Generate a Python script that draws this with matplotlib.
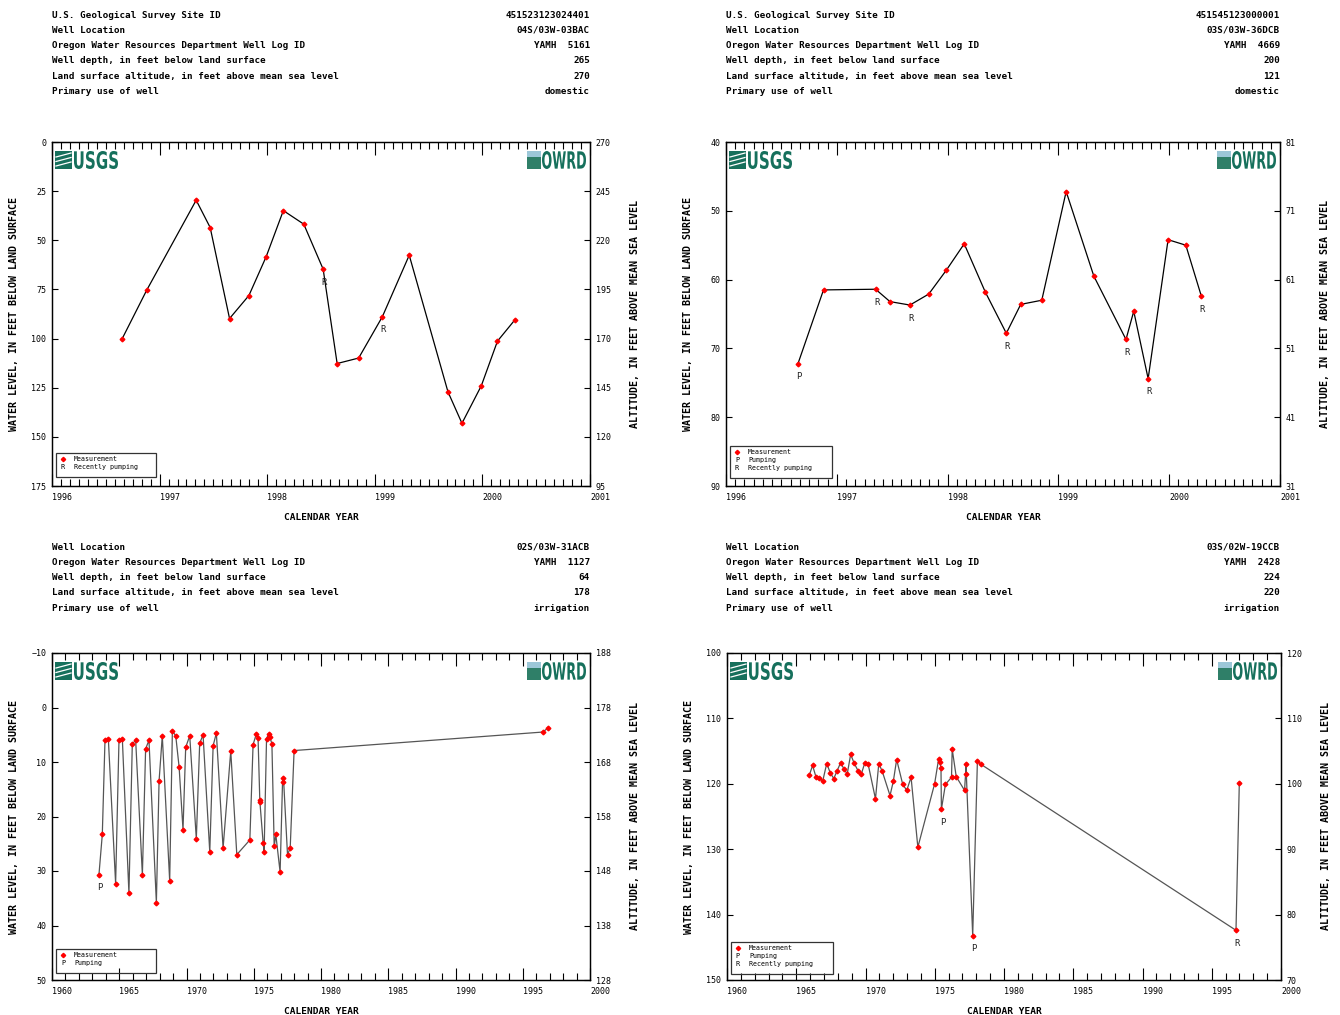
import matplotlib
matplotlib.use('Agg')
import matplotlib.pyplot as plt
from matplotlib.patches import Rectangle, PathPatch
from matplotlib.lines import Line2D
from matplotlib.ticker import MultipleLocator
from matplotlib.textpath import TextPath
from matplotlib.font_manager import FontProperties
from matplotlib.transforms import Affine2D, IdentityTransform

W, H = 1340, 1015
MONO = ['DejaVu Sans Mono']
TEAL = '#16705c'

# --- header info for the four wells ---
tl_labels = ["U.S. Geological Survey Site ID", "Well Location",
             "Oregon Water Resources Department Well Log ID",
             "Well depth, in feet below land surface",
             "Land surface altitude, in feet above mean sea level",
             "Primary use of well"]
tl_values = ["451523123024401", "04S/03W-03BAC", "YAMH  5161", "265", "270", "domestic"]
tr_values = ["451545123000001", "03S/03W-36DCB", "YAMH  4669", "200", "121", "domestic"]
bl_labels = tl_labels[1:]
bl_values = ["02S/03W-31ACB", "YAMH  1127", "64", "178", "irrigation"]
br_values = ["03S/02W-19CCB", "YAMH  2428", "224", "220", "irrigation"]

# --- well 1 (top left) ---
tl_years = [1996.65, 1996.88, 1997.34, 1997.47, 1997.65, 1997.83, 1997.99, 1998.15,
            1998.34, 1998.52, 1998.65, 1998.85, 1999.07, 1999.32, 1999.68, 1999.81,
            1999.99, 2000.14, 2000.30]
tl_depth = [100.3, 75.4, 29.6, 43.5, 89.8, 78.1, 58.4, 34.9, 41.8, 64.7, 112.7, 109.9,
            88.9, 57.6, 127.1, 143.1, 124.0, 101.3, 90.6]
tl_notes = {9: 'R', 12: 'R'}

# --- well 2 (top right) ---
tr_years = [1996.65, 1996.88, 1997.35, 1997.48, 1997.66, 1997.83, 1997.99, 1998.15,
            1998.34, 1998.53, 1998.66, 1998.85, 1999.07, 1999.32, 1999.61, 1999.68,
            1999.81, 1999.99, 2000.15, 2000.29]
tr_depth = [72.2, 61.5, 61.4, 63.2, 63.7, 62.1, 58.6, 54.8, 61.8, 67.8, 63.6, 63.0,
            47.2, 59.5, 68.7, 64.6, 74.4, 54.2, 55.0, 62.4]
tr_notes = {0: 'P', 2: 'R', 4: 'R', 9: 'R', 14: 'R', 16: 'R', 19: 'R'}

# --- well 3 (bottom left) ---
bl_years = [1963.49, 1963.74, 1963.94, 1964.19, 1964.73, 1964.98, 1965.23, 1965.72,
            1965.97, 1966.22, 1966.72, 1966.96, 1967.21, 1967.76, 1967.96, 1968.20,
            1968.75, 1968.95, 1969.20, 1969.45, 1969.74, 1969.94, 1970.24, 1970.73,
            1970.98, 1971.23, 1971.73, 1971.98, 1972.22, 1972.72, 1973.29, 1973.74,
            1974.71, 1974.95, 1975.20, 1975.32, 1975.45, 1975.46, 1975.70, 1975.77,
            1975.95, 1976.10, 1976.20, 1976.35, 1976.52, 1976.64, 1976.96, 1977.14,
            1977.21, 1977.51, 1977.71, 1978.00, 1996.51, 1996.89]
bl_depth = [30.7, 23.3, 6.0, 5.8, 32.3, 6.0, 5.8, 34.1, 6.7, 6.0, 30.7, 7.6, 6.0, 35.8,
            13.5, 5.2, 31.8, 4.3, 5.2, 10.9, 22.4, 7.3, 5.2, 24.1, 6.6, 5.0, 26.5, 7.0,
            4.7, 25.8, 8.0, 27.0, 24.3, 6.8, 4.8, 5.6, 17.0, 17.4, 24.9, 26.5, 5.8, 4.8,
            5.4, 6.7, 25.5, 23.3, 30.2, 13.7, 12.9, 27.0, 25.8, 7.9, 4.5, 3.7]
bl_notes = {0: 'P'}

# --- well 4 (bottom right) ---
br_years = [1965.94, 1966.18, 1966.43, 1966.67, 1966.91, 1967.20, 1967.45, 1967.71,
            1967.93, 1968.20, 1968.44, 1968.68, 1968.93, 1969.17, 1969.46, 1969.70,
            1969.95, 1970.19, 1970.72, 1970.96, 1971.21, 1971.77, 1972.01, 1972.25,
            1972.69, 1972.98, 1973.29, 1973.78, 1974.99, 1975.28, 1975.36, 1975.45,
            1975.48, 1975.77, 1976.21, 1976.26, 1976.55, 1977.15, 1977.27, 1977.28,
            1977.74, 1978.08, 1978.32, 1996.75, 1996.99]
br_depth = [118.7, 117.2, 119.0, 119.1, 119.6, 116.9, 118.3, 119.2, 118.1, 116.8, 117.7,
            118.5, 115.5, 116.8, 118.0, 118.5, 116.8, 117.0, 122.3, 116.9, 118.1, 121.8,
            119.6, 116.3, 120.1, 121.0, 119.0, 129.7, 120.0, 116.2, 116.7, 117.6, 123.9,
            120.1, 119.0, 114.7, 118.9, 121.0, 117.0, 118.5, 143.2, 116.5, 117.0, 142.4,
            119.9]
br_notes = {32: 'P', 40: 'P', 43: 'R'}


def fx(x):
    return x / W


def fy(y):
    return 1 - y / H


fig = plt.figure(figsize=(W / 100, H / 100), dpi=100)
BOLD = FontProperties(family='DejaVu Sans', weight='bold')


def header(labels, values, x0, x1, y0):
    for i, (l, v) in enumerate(zip(labels, values)):
        y = y0 + i * 15.3
        fig.text(fx(x0), fy(y), l, family=MONO, fontsize=6.7, weight='bold', va='center')
        fig.text(fx(x1), fy(y), v, family=MONO, fontsize=6.7, weight='bold', va='center', ha='right')


def legend(x0, y0, w, items):
    h = 8 + 8 * len(items)
    fig.add_artist(Rectangle((fx(x0), fy(y0 + h)), w / W, h / H, transform=fig.transFigure,
                             fill=False, lw=0.9, ec='#333333'))
    for i, (sym, txt) in enumerate(items):
        y = y0 + 6 + i * 8
        if sym == '*':
            fig.add_artist(Line2D([fx(x0 + 7)], [fy(y)], marker='D', ms=2.2, color='red',
                                  lw=0, transform=fig.transFigure))
        else:
            fig.text(fx(x0 + 7), fy(y), sym, family=MONO, fontsize=5, ha='center', va='center')
        fig.text(fx(x0 + 18), fy(y), txt, family=MONO, fontsize=4.8, va='center')


def squeezed_text(s, left, right, top, bottom, color):
    # squeeze the word into a pixel box to get the narrow bold logo look
    tp = TextPath((0, 0), s, size=20, prop=BOLD)
    ext = tp.get_extents()
    sx = (right - left) / ext.width
    sy = (bottom - top) / ext.height
    tr = Affine2D().translate(-ext.x0, -ext.y0).scale(sx, sy).translate(left, H - bottom)
    fig.add_artist(PathPatch(tp, transform=tr + IdentityTransform(), color=color, lw=0))


def panel(box, years, depth, notes, land, ylo, yhi, ystep, xlo, xhi, xmaj, xmin, lcolor):
    x0, y0, x1, y1 = box
    ax = fig.add_axes([fx(x0), fy(y1), (x1 - x0) / W, (y1 - y0) / H])
    ax.plot(years, depth, color=lcolor, lw=0.9, zorder=2)
    ax.plot(years, depth, lw=0, marker='D', ms=2.4, color='red', zorder=3)
    for i, s in notes.items():
        ax.annotate(s, (years[i], depth[i]), xytext=(1, -13), textcoords='offset pixels',
                    family=MONO, fontsize=6.5, ha='center', va='center', color='#222222')
    ax.set_xlim(xlo, xhi)
    ax.set_ylim(yhi, ylo)
    xt = list(range(xlo, xhi + 1, xmaj))
    ax.set_xticks(xt)
    ax.set_xticklabels([str(v) for v in xt], ha='left')
    ax.xaxis.set_minor_locator(MultipleLocator(xmin))
    yt = list(range(ylo, yhi + 1, ystep))
    ax.set_yticks(yt)
    ax.tick_params(axis='x', which='major', direction='in', top=True, length=9, width=0.8,
                   labelsize=6, pad=5)
    ax.tick_params(axis='x', which='minor', direction='in', top=True, length=5, width=0.8)
    ax.tick_params(axis='y', direction='in', length=4, width=0.8, labelsize=6, pad=4)
    for lbl in ax.get_xticklabels() + ax.get_yticklabels():
        lbl.set_family(MONO)
    # right axis: altitude = land surface - depth
    ax2 = ax.twinx()
    ax2.set_ylim(land - yhi, land - ylo)
    ax2.set_yticks([land - v for v in yt])
    ax2.tick_params(axis='y', direction='in', length=4, width=0.8, labelsize=6, pad=4)
    for lbl in ax2.get_yticklabels():
        lbl.set_family(MONO)
    for a in (ax, ax2):
        for sp in a.spines.values():
            sp.set_linewidth(0.9)
    cx = (x0 + x1) / 2
    cy = (y0 + y1) / 2
    fig.text(fx(cx), fy(y1 + 31), 'CALENDAR YEAR', family=MONO, fontsize=6.8, weight='bold',
             ha='center', va='center')
    fig.text(fx(x0 - 38), fy(cy), 'WATER LEVEL, IN FEET BELOW LAND SURFACE', family=MONO,
             fontsize=7.2, weight='bold', rotation=90, ha='center', va='center')
    fig.text(fx(x1 + 45), fy(cy), 'ALTITUDE, IN FEET ABOVE MEAN SEA LEVEL', family=MONO,
             fontsize=7.2, weight='bold', rotation=90, ha='center', va='center')

    # logos inside the frame
    top, bot = y0 + 9, y0 + 27
    lx = x0 + 3
    fig.add_artist(Rectangle((fx(lx), fy(bot)), 17 / W, 18 / H, transform=fig.transFigure,
                             color=TEAL, lw=0, zorder=5))
    for k in range(3):
        fig.add_artist(Line2D([fx(lx + 1), fx(lx + 16)], [fy(bot - 3 - k * 4.5), fy(bot - 7 - k * 4.5)],
                              color='white', lw=0.9, transform=fig.transFigure, zorder=6))
    squeezed_text('USGS', lx + 19, lx + 63, top, bot, TEAL)
    rx = x1 - 4
    squeezed_text('OWRD', rx - 44, rx, top, bot, TEAL)
    fig.add_artist(Rectangle((fx(rx - 59), fy(bot)), 14 / W, 12 / H, transform=fig.transFigure,
                             color='#2f7f68', lw=0, zorder=5))
    fig.add_artist(Rectangle((fx(rx - 59), fy(bot - 12)), 14 / W, 6 / H, transform=fig.transFigure,
                             color='#9cc7d8', lw=0, zorder=5))
    return ax


header(tl_labels, tl_values, 52, 590, 15)
header(tl_labels, tr_values, 726, 1280, 15)
header(bl_labels, bl_values, 52, 590, 547)
header(bl_labels, br_values, 726, 1280, 547)

panel((52, 142, 590, 486), tl_years, tl_depth, tl_notes, 270, 0, 175, 25, 1996, 2001, 1, 1 / 12, 'black')
panel((726, 142, 1280, 486), tr_years, tr_depth, tr_notes, 121, 40, 90, 10, 1996, 2001, 1, 1 / 12, 'black')
panel((52, 653, 590, 980), bl_years, bl_depth, bl_notes, 178, -10, 50, 10, 1960, 2000, 5, 1, '#555555')
panel((727, 653, 1281, 980), br_years, br_depth, br_notes, 220, 100, 150, 10, 1960, 2000, 5, 1, '#555555')

legend(56, 453, 100, [('*', 'Measurement'), ('R', 'Recently pumping')])
legend(730, 446, 102, [('*', 'Measurement'), ('P', 'Pumping'), ('R', 'Recently pumping')])
legend(56, 949, 100, [('*', 'Measurement'), ('P', 'Pumping')])
legend(731, 942, 102, [('*', 'Measurement'), ('P', 'Pumping'), ('R', 'Recently pumping')])

fig.savefig('out.png', dpi=100, facecolor='white')
